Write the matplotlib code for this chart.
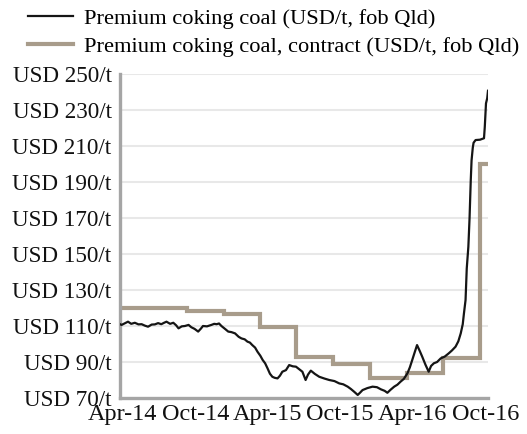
from __future__ import annotations

import matplotlib
matplotlib.use("Agg")
import matplotlib.pyplot as plt
import pandas as pd
from matplotlib.ticker import FuncFormatter

OUTPUT = "out.png"

SPOT_C     = "#151515"
CONTRACT_C = "#A89C8B"
GRID_C     = "#E8E8E8"
SPINE_C    = "#A5A5A5"
FONT       = "Liberation Serif"

SPOT_LABEL     = "Premium coking coal (USD/t, fob Qld)"
CONTRACT_LABEL = "Premium coking coal, contract (USD/t, fob Qld)"

# spot price
spot_dates = [
    "2014-04-17", "2014-04-21", "2014-04-29", "2014-05-07", "2014-05-15", "2014-05-24",
    "2014-06-02", "2014-06-10", "2014-06-18", "2014-06-26", "2014-07-05", "2014-07-13",
    "2014-07-21", "2014-07-29", "2014-08-05", "2014-08-11", "2014-08-20", "2014-08-28",
    "2014-09-04", "2014-09-10", "2014-09-18", "2014-09-26", "2014-10-05", "2014-10-12",
    "2014-10-20", "2014-10-29", "2014-11-05", "2014-11-10", "2014-11-20", "2014-12-01",
    "2014-12-08", "2014-12-14", "2014-12-20", "2014-12-26", "2015-01-05", "2015-01-12",
    "2015-01-20", "2015-01-29", "2015-02-07", "2015-02-14", "2015-02-22", "2015-03-01",
    "2015-03-07", "2015-03-13", "2015-03-20", "2015-03-26", "2015-04-02", "2015-04-08",
    "2015-04-14", "2015-04-20", "2015-04-26", "2015-05-02", "2015-05-08", "2015-05-15",
    "2015-05-21", "2015-05-27", "2015-06-05", "2015-06-13", "2015-06-22", "2015-06-30",
    "2015-07-08", "2015-07-16", "2015-07-24", "2015-07-30", "2015-08-06", "2015-08-16",
    "2015-08-27", "2015-09-09", "2015-09-21", "2015-10-04", "2015-10-16", "2015-10-26",
    "2015-11-06", "2015-11-14", "2015-11-22", "2015-12-01", "2015-12-07", "2015-12-13",
    "2015-12-25", "2016-01-07", "2016-01-18", "2016-01-28", "2016-02-06", "2016-02-13",
    "2016-02-21", "2016-03-01", "2016-03-09", "2016-03-17", "2016-03-25", "2016-04-03",
    "2016-04-09", "2016-04-15", "2016-04-21", "2016-04-27", "2016-05-04", "2016-05-10",
    "2016-05-18", "2016-05-26", "2016-06-01", "2016-06-08", "2016-06-16", "2016-06-25",
    "2016-07-05", "2016-07-15", "2016-07-23", "2016-08-01", "2016-08-08", "2016-08-14",
    "2016-08-19", "2016-08-22", "2016-08-26", "2016-08-29", "2016-09-02", "2016-09-05",
    "2016-09-08", "2016-09-10", "2016-09-13", "2016-09-15", "2016-09-20", "2016-10-01",
    "2016-10-11", "2016-10-13", "2016-10-16", "2016-10-19", "2016-10-21",
]
spot_prices = [
    111.0, 110.6, 111.5, 112.4, 111.2, 111.8,
    110.9, 111.0, 110.2, 109.6, 110.8, 110.9,
    111.6, 111.0, 111.8, 112.4, 111.2, 111.8,
    110.4, 108.7, 109.8, 110.0, 110.6, 109.3,
    108.4, 106.9, 108.6, 110.0, 109.8, 110.6,
    111.2, 111.0, 111.4, 110.0, 108.2, 106.9,
    106.6, 105.9, 104.0, 103.1, 102.6, 101.3,
    100.8, 99.4, 98.0, 95.7, 93.5, 91.1,
    89.3, 86.5, 83.5, 81.8, 81.2, 80.9,
    82.4, 84.6, 85.5, 88.3, 87.6, 87.4,
    86.0, 84.6, 80.0, 83.0, 85.2, 83.4,
    81.8, 80.8, 80.0, 79.4, 78.1, 77.6,
    76.3, 75.0, 73.5, 71.7, 73.0, 74.4,
    75.5, 76.3, 76.0, 74.8, 74.0, 72.9,
    74.6, 76.3, 77.4, 79.1, 80.6, 83.7,
    87.0, 91.1, 95.3, 99.4, 96.0, 92.9,
    88.5, 84.6, 87.8, 89.3, 90.0, 92.0,
    93.0, 94.8, 96.4, 98.5, 101.5, 105.9,
    111.0, 117.0, 124.4, 142.0, 154.0, 170.0,
    191.0, 202.0, 209.0, 211.8, 213.3, 213.5,
    214.3, 220.7, 233.7, 236.5, 240.7,
]

# quarterly contract settlements (last entry closes the final step)
contract_dates = [
    "2014-04-17", "2014-07-01", "2014-10-01", "2015-01-01", "2015-04-01", "2015-07-01",
    "2015-10-01", "2016-01-01", "2016-04-01", "2016-07-01", "2016-10-01", "2016-10-21",
]
contract_prices = [120.0, 120.0, 118.6, 116.8, 109.6, 93.0,
                   89.0, 80.9, 83.8, 92.2, 200.0, 200.0]

y_ticks = [70, 90, 110, 130, 150, 170, 190, 210, 230, 250]
x_tick_dates  = ["2014-04-24", "2014-10-22", "2015-04-20", "2015-10-18", "2016-04-16", "2016-10-14"]
x_tick_labels = ["Apr-14", "Oct-14", "Apr-15", "Oct-15", "Apr-16", "Oct-16"]

X_START = "2014-04-17"
X_END   = "2016-10-21"


def build() -> plt.Figure:
    fig = plt.figure(figsize=(5.27, 4.34), dpi=100)
    ax = fig.add_axes([120 / 527, 36 / 434, 368 / 527, 324 / 434])

    contract, = ax.plot(pd.to_datetime(contract_dates), contract_prices,
                        drawstyle="steps-post", color=CONTRACT_C, lw=3.0,
                        solid_joinstyle="miter", zorder=2, label=CONTRACT_LABEL)
    spot, = ax.plot(pd.to_datetime(spot_dates), spot_prices,
                    color=SPOT_C, lw=1.6, solid_joinstyle="round", zorder=3,
                    label=SPOT_LABEL)

    ax.set_xlim(pd.Timestamp(X_START), pd.Timestamp(X_END))
    ax.set_ylim(y_ticks[0], y_ticks[-1])

    ax.set_yticks(y_ticks)
    ax.yaxis.set_major_formatter(FuncFormatter(lambda v, _: f"USD {v:.0f}/t"))
    ax.set_xticks(pd.to_datetime(x_tick_dates))
    ax.set_xticklabels(x_tick_labels)

    ax.tick_params(axis="both", length=0, colors="#111111")
    ax.tick_params(axis="y", pad=6, labelsize=16.7)
    ax.tick_params(axis="x", pad=4, labelsize=17.5)
    for lab in ax.get_xticklabels() + ax.get_yticklabels():
        lab.set_fontfamily(FONT)

    ax.grid(axis="y", color=GRID_C, lw=1.5)
    ax.set_axisbelow(True)
    for side in ("top", "right"):
        ax.spines[side].set_visible(False)
    for side in ("left", "bottom"):
        ax.spines[side].set_color(SPINE_C)
        ax.spines[side].set_linewidth(2.4)

    fig.legend(handles=[spot, contract], loc="upper left",
               bbox_to_anchor=(28 / 527, 1 - 8 / 434), frameon=False,
               prop={"family": FONT, "size": 16.2},
               handlelength=2.0, handletextpad=0.5, labelspacing=0.32,
               borderpad=0.0, borderaxespad=0.0)
    return fig


if __name__ == "__main__":
    fig = build()
    fig.savefig(OUTPUT, dpi=100, facecolor="white")
    plt.close(fig)
